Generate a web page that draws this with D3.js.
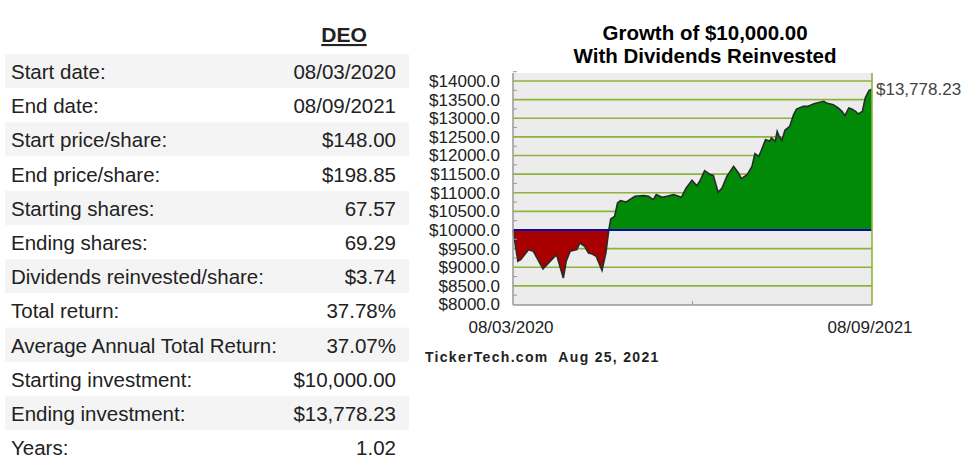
<!DOCTYPE html>
<html>
<head>
<meta charset="utf-8">
<style>
    body { margin: 0; background: #fff; font-family: "Liberation Sans", Arial, sans-serif; }
    svg { display: block; }
    .row-label, .row-value { font-size: 20.5px; fill: #222; }
    .ticker { font-size: 21px; font-weight: bold; fill: #222; text-decoration: underline; }
    .title { font-size: 20.5px; font-weight: bold; fill: #000; }
    .y .tick text { font-size: 17px; fill: #222; }
    .x-label { font-size: 17px; fill: #222; }
    .end-label { font-size: 17px; fill: #444; }
    .footer { font-size: 14px; font-weight: bold; fill: #222; letter-spacing: 1.3px; }
</style>
</head>
<body>
<svg width="974" height="462"></svg>
<script src="https://d3js.org/d3.v7.min.js"></script>
<script>
    // table
    let rowLabels = ["Start date:", "End date:", "Start price/share:", "End price/share:",
        "Starting shares:", "Ending shares:", "Dividends reinvested/share:", "Total return:",
        "Average Annual Total Return:", "Starting investment:", "Ending investment:", "Years:"]
    let rowValues = ["08/03/2020", "08/09/2021", "$148.00", "$198.85", "67.57", "69.29",
        "$3.74", "37.78%", "37.07%", "$10,000.00", "$13,778.23", "1.02"]

    // growth series: days since start date, value of $10,000
    let days = [0, 5, 8, 16, 21, 31, 40, 45, 52, 55, 59, 66, 69, 74, 78, 81, 86, 92, 96, 99,
        101, 105, 108, 111, 117, 126, 135, 140, 145, 148, 154, 159, 166, 174, 179, 185, 190, 193,
        198, 204, 207, 212, 216, 221, 228, 233, 236, 242, 247, 250, 254, 257, 261, 265, 267, 271,
        273, 275, 278, 281, 286, 290, 293, 300, 305, 311, 314, 321, 324, 331, 336, 340, 343, 347,
        350, 354, 357, 361, 364, 368, 371]
    let values = [10000, 9159, 9204, 9472, 9427, 8953, 9204, 9338, 8711, 9159, 9427, 9472, 9651,
        9562, 9383, 9365, 9293, 8917, 9383, 10000,
        10295, 10367, 10725, 10788, 10752, 10904, 10922, 10904, 10814, 10949, 10877, 10904, 10949,
        10877, 11128, 11333, 11190, 11307, 11593, 11486, 11468, 11011, 11128, 11441, 11709, 11530,
        11378, 11486, 11709, 12049, 11978, 12157, 12425, 12380, 12470, 12380, 12649, 12515, 12407,
        12676, 12783, 13096, 13248, 13320, 13320, 13392, 13410, 13454, 13410, 13365, 13275, 13186,
        13069, 13275, 13248, 13186, 13114, 13186, 13544, 13750, 13778.23]

    let yTicks = d3.range(8000, 14001, 500)
    let startDate = new Date(2020, 7, 3)
    let endDate = new Date(2021, 7, 9)
    let xTickLabels = ["08/03/2020", "08/09/2021"]
    let baseValue = 10000

    let svg = d3.select("svg")

    // ---- left table ----
    let rowH = 34.2, rowTop = 54
    let rows = svg.append("g").selectAll("g")
        .data(rowLabels)
        .join("g")
        .attr("transform", (d, i) => `translate(0, ${rowTop + i * rowH})`)

    rows.append("rect")
        .attr("x", 5).attr("width", 404).attr("height", rowH)
        .attr("fill", (d, i) => i % 2 == 0 ? "#f4f4f4" : "#fff")

    rows.append("text")
        .attr("class", "row-label")
        .attr("x", 11).attr("y", 25)
        .text(d => d)

    rows.append("text")
        .attr("class", "row-value")
        .attr("x", 396).attr("y", 25)
        .attr("text-anchor", "end")
        .text((d, i) => rowValues[i])

    svg.append("text")
        .attr("class", "ticker")
        .attr("x", 344).attr("y", 42)
        .attr("text-anchor", "middle")
        .text("DEO")

    // ---- chart ----
    let pLeft = 513, pRight = 872, pTop = 73, pBottom = 305

    let x = d3.scaleTime().domain([startDate, endDate]).range([pLeft, pRight])
    let y = d3.scaleLinear().domain([8000, 14000]).range([304.5, 81])

    let data = days.map((d, i) => ({ date: d3.timeDay.offset(startDate, d), value: values[i] }))

    svg.append("text").attr("class", "title")
        .attr("x", 705).attr("y", 40).attr("text-anchor", "middle")
        .text("Growth of $10,000.00")
    svg.append("text").attr("class", "title")
        .attr("x", 705).attr("y", 63).attr("text-anchor", "middle")
        .text("With Dividends Reinvested")

    svg.append("rect")
        .attr("x", pLeft).attr("y", pTop)
        .attr("width", pRight - pLeft).attr("height", pBottom - pTop)
        .attr("fill", "#ececec")

    // gridlines
    svg.append("g").selectAll("line")
        .data(yTicks.filter(d => d != 8000 && d != baseValue))
        .join("line")
        .attr("x1", pLeft).attr("x2", pRight)
        .attr("y1", d => y(d)).attr("y2", d => y(d))
        .attr("stroke", "#8fb23c").attr("stroke-width", 1.6)

    let defs = svg.append("defs")
    defs.append("clipPath").attr("id", "above")
        .append("rect").attr("x", pLeft).attr("y", pTop)
        .attr("width", pRight - pLeft).attr("height", y(baseValue) - pTop)
    defs.append("clipPath").attr("id", "below")
        .append("rect").attr("x", pLeft).attr("y", y(baseValue))
        .attr("width", pRight - pLeft).attr("height", pBottom - y(baseValue))
    defs.append("filter").attr("id", "soft")
        .append("feGaussianBlur").attr("stdDeviation", 0.5)

    let area = d3.area()
        .x(d => x(d.date))
        .y0(y(baseValue))
        .y1(d => y(d.value))

    let line = d3.line()
        .x(d => x(d.date))
        .y(d => y(d.value))

    svg.append("path").datum(data)
        .attr("d", area).attr("fill", "#008a08")
        .attr("clip-path", "url(#above)")
    svg.append("path").datum(data)
        .attr("d", area).attr("fill", "#a80000")
        .attr("clip-path", "url(#below)")

    svg.append("path").datum(data)
        .attr("d", line).attr("fill", "none")
        .attr("stroke", "#2a2a2a").attr("stroke-width", 1.6)
        .attr("filter", "url(#soft)")

    svg.append("line")
        .attr("x1", pLeft).attr("x2", pRight)
        .attr("y1", y(baseValue)).attr("y2", y(baseValue))
        .attr("stroke", "#0a0aa0").attr("stroke-width", 2)

    // right border
    svg.append("line")
        .attr("x1", pRight).attr("x2", pRight).attr("y1", pTop).attr("y2", pBottom)
        .attr("stroke", "#8fb23c").attr("stroke-width", 1.6)

    // y axis
    let yAxis = d3.axisLeft(y)
        .tickValues(yTicks)
        .tickSize(0)
        .tickPadding(13)
        .tickFormat(d => "$" + d3.format(".1f")(d))

    svg.append("g")
        .attr("class", "y axis")
        .attr("transform", `translate(${pLeft}, 0)`)
        .call(yAxis)
        .call(g => g.select(".domain").remove())

    svg.append("g").selectAll("line")
        .data(yTicks.map(d => d + 250))
        .join("line")
        .attr("x1", pLeft).attr("x2", pLeft + 4)
        .attr("y1", d => y(d)).attr("y2", d => y(d))
        .attr("stroke", "#999")

    svg.append("line")
        .attr("x1", pLeft).attr("x2", pLeft).attr("y1", pTop).attr("y2", pBottom)
        .attr("stroke", "#999").attr("stroke-width", 1.5)
    svg.append("line")
        .attr("x1", pLeft).attr("x2", pRight).attr("y1", pBottom).attr("y2", pBottom)
        .attr("stroke", "#999").attr("stroke-width", 1.5)
    svg.append("line")
        .attr("x1", (pLeft + pRight) / 2).attr("x2", (pLeft + pRight) / 2)
        .attr("y1", pBottom - 4).attr("y2", pBottom)
        .attr("stroke", "#999")

    // x labels
    svg.append("g").selectAll("text")
        .data([startDate, endDate])
        .join("text")
        .attr("class", "x-label")
        .attr("x", d => x(d) - 2).attr("y", 333)
        .attr("text-anchor", "middle")
        .text((d, i) => xTickLabels[i])

    svg.append("text")
        .attr("class", "end-label")
        .attr("x", pRight + 4).attr("y", y(values[values.length - 1]) + 6)
        .text("$" + d3.format(",.2f")(values[values.length - 1]))

    svg.append("text")
        .attr("class", "footer")
        .attr("x", 425).attr("y", 362)
        .attr("xml:space", "preserve")
        .text("TickerTech.com  Aug 25, 2021")
</script>
</body>
</html>
